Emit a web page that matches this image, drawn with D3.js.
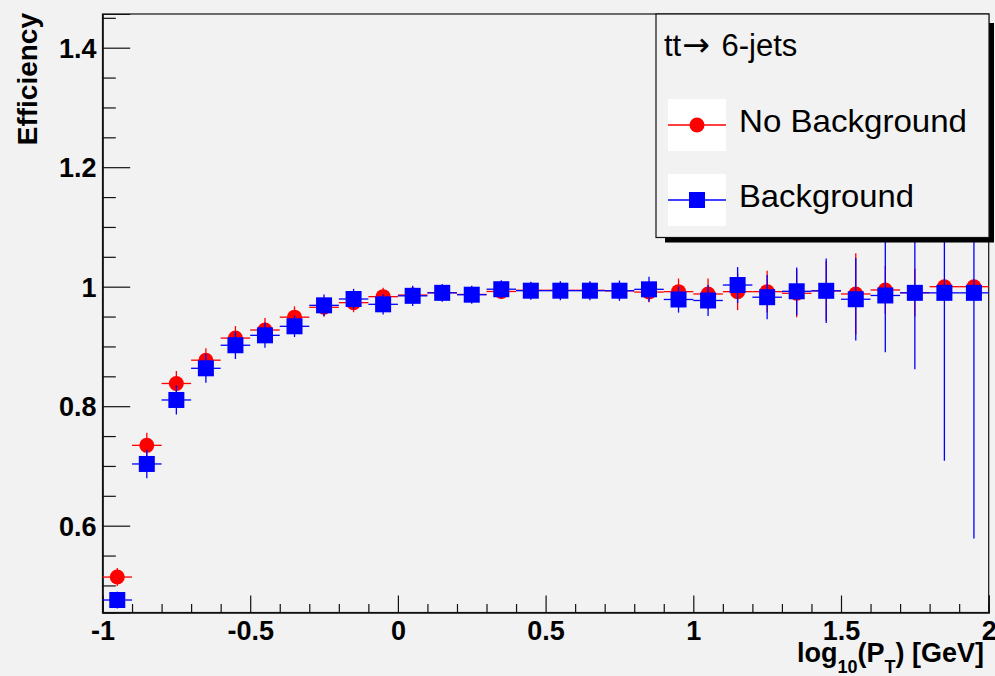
<!DOCTYPE html>
<html>
<head>
<meta charset="utf-8">
<script src="https://cdn.jsdelivr.net/npm/d3@7/dist/d3.min.js"></script>
<style>
  html, body { margin: 0; padding: 0; background: #f2f2f2; }
  svg { display: block; }
  text { font-family: "Liberation Sans", Arial, Helvetica, sans-serif; }
</style>
</head>
<body>
<svg id="chart" width="995" height="676"></svg>
<script>
// Bin centres of log10(pT) (bins of width 0.1 from -1 to 2)
const binCenters = [-0.95, -0.85, -0.75, -0.65, -0.55, -0.45, -0.35, -0.25, -0.15, -0.05,
                     0.05,  0.15,  0.25,  0.35,  0.45,  0.55,  0.65,  0.75,  0.85,  0.95,
                     1.05,  1.15,  1.25,  1.35,  1.45,  1.55,  1.65,  1.75,  1.85,  1.95];
const binHalfWidth = 0.05;

// Efficiency without background
const effNoBkg = [0.514, 0.7345, 0.838, 0.877, 0.914, 0.9275, 0.949, 0.9655, 0.9733, 0.9833,
                  0.986, 0.990, 0.987, 0.992, 0.994, 0.994, 0.994, 0.993, 0.991, 0.9917,
                  0.9878, 0.9917, 0.9917, 0.989, 0.993, 0.9878, 0.9945, 0.990, 1.0, 1.0];
const errNoBkg = [0.015, 0.021, 0.021, 0.020, 0.020, 0.020, 0.018, 0.016, 0.016, 0.015,
                  0.014, 0.012, 0.012, 0.012, 0.012, 0.012, 0.013, 0.014, 0.017, 0.022,
                  0.026, 0.031, 0.035, 0.040, 0.050, 0.068, 0.040, 0.040, 0.0, 0.0];

// Efficiency with background
const effBkg = [0.4756, 0.7033, 0.8104, 0.8634, 0.902, 0.9186, 0.9337, 0.9688, 0.9794, 0.9705,
                0.9847, 0.9897, 0.9866, 0.9958, 0.9933, 0.9933, 0.9933, 0.9933, 0.9956, 0.9786,
                0.9769, 1.0028, 0.9824, 0.9923, 0.9931, 0.979, 0.9853, 0.9897, 0.9897, 0.9897];
const errBkg = [0.014, 0.024, 0.0245, 0.024, 0.023, 0.021, 0.018, 0.018, 0.017, 0.017,
                0.017, 0.015, 0.015, 0.015, 0.015, 0.016, 0.016, 0.017, 0.021, 0.022,
                0.026, 0.030, 0.037, 0.040, 0.054, 0.069, 0.095, 0.128, 0.281, 0.411];

// Axis ticks
const xMajorTicks = [-1, -0.5, 0, 0.5, 1, 1.5, 2];
const xTickLabels = ["-1", "-0.5", "0", "0.5", "1", "1.5", "2"];
const xMinorTicks = [-0.9, -0.8, -0.7, -0.6, -0.4, -0.3, -0.2, -0.1, 0.1, 0.2, 0.3, 0.4,
                     0.6, 0.7, 0.8, 0.9, 1.1, 1.2, 1.3, 1.4, 1.6, 1.7, 1.8, 1.9];
const yMajorTicks = [0.6, 0.8, 1.0, 1.2, 1.4];
const yTickLabels = ["0.6", "0.8", "1", "1.2", "1.4"];
const yMinorTicks = [0.5, 0.55, 0.65, 0.7, 0.75, 0.85, 0.9, 0.95, 1.05, 1.1, 1.15, 1.25, 1.3, 1.35, 1.45];

const seriesNames = ["No Background", "Background"];
const seriesColors = ["#ff0000", "#0000ff"];

const svg = d3.select("#chart");
svg.append("rect").attr("width", 995).attr("height", 676).attr("fill", "#f2f2f2");

const frame = { left: 102.5, right: 988.7, top: 14, bottom: 612.5 };
const x = d3.scaleLinear().domain([-1, 2]).range([frame.left, frame.right]);
const y = d3.scaleLinear().domain([0.4547, 1.4564]).range([frame.bottom, frame.top]);

// Frame
svg.append("rect")
  .attr("x", frame.left).attr("y", frame.top)
  .attr("width", frame.right - frame.left).attr("height", frame.bottom - frame.top)
  .attr("fill", "none").attr("stroke", "#111").attr("stroke-width", 1.2);

const tickFont = { size: 27, weight: "bold" };

// X axis: major ticks with labels, minor ticks
const xAxisG = svg.append("g").attr("transform", `translate(0,${frame.bottom})`);
xAxisG.call(d3.axisBottom(x).tickValues(xMajorTicks).tickSize(-17)
  .tickFormat((d, i) => xTickLabels[i]).tickPadding(0));
xAxisG.append("g").call(d3.axisBottom(x).tickValues(xMinorTicks).tickSize(-8.5).tickFormat(""));
xAxisG.selectAll(".domain").attr("stroke", "#111").attr("stroke-width", 1.2);
xAxisG.selectAll(".tick line").attr("stroke", "#111").attr("stroke-width", 1.2);
xAxisG.selectAll(".tick text")
  .attr("y", 27.5).attr("dy", null)
  .attr("fill", "#000")
  .style("font-family", '"Liberation Sans", Arial, sans-serif')
  .style("font-size", tickFont.size + "px").style("font-weight", tickFont.weight);

// Y axis
const yAxisG = svg.append("g").attr("transform", `translate(${frame.left},0)`);
yAxisG.call(d3.axisLeft(y).tickValues(yMajorTicks).tickSize(-27.7)
  .tickFormat((d, i) => yTickLabels[i]).tickPadding(6));
yAxisG.append("g").call(d3.axisLeft(y).tickValues(yMinorTicks).tickSize(-13.3).tickFormat(""));
yAxisG.selectAll(".domain").attr("stroke", "#111").attr("stroke-width", 1.2);
yAxisG.selectAll(".tick line").attr("stroke", "#111").attr("stroke-width", 1.2);
yAxisG.selectAll(".tick text")
  .attr("dy", "0.36em")
  .attr("fill", "#000")
  .style("font-family", '"Liberation Sans", Arial, sans-serif')
  .style("font-size", tickFont.size + "px").style("font-weight", tickFont.weight);

// Axis titles
const xTitle = svg.append("text")
  .attr("x", 984).attr("y", 662)
  .attr("text-anchor", "end")
  .style("font-size", "27px").style("font-weight", "bold");
xTitle.append("tspan").text("log");
xTitle.append("tspan").attr("dy", 11).style("font-size", "18px").text("10");
xTitle.append("tspan").attr("dy", -11).text("(P");
xTitle.append("tspan").attr("dy", 11).style("font-size", "18px").text("T");
xTitle.append("tspan").attr("dy", -11).text(") [GeV]");

svg.append("text")
  .attr("transform", "translate(37,13) rotate(-90)")
  .attr("text-anchor", "end")
  .style("font-size", "28px").style("font-weight", "bold")
  .text("Efficiency");

// Data series
const series = [
  { values: effNoBkg, errors: errNoBkg, color: seriesColors[0], marker: "circle" },
  { values: effBkg, errors: errBkg, color: seriesColors[1], marker: "square" }
];

const plot = svg.append("g");
series.forEach(s => {
  const pts = binCenters.map((c, i) => ({ c, v: s.values[i], e: s.errors[i] }));
  const g = plot.append("g");
  // horizontal bars (bin width)
  g.selectAll("line.xerr").data(pts).join("line")
    .attr("class", "xerr")
    .attr("x1", d => x(d.c - binHalfWidth)).attr("x2", d => x(d.c + binHalfWidth))
    .attr("y1", d => y(d.v)).attr("y2", d => y(d.v))
    .attr("stroke", s.color).attr("stroke-width", 1.3);
  // vertical error bars
  g.selectAll("line.yerr").data(pts.filter(d => d.e > 0)).join("line")
    .attr("class", "yerr")
    .attr("x1", d => x(d.c)).attr("x2", d => x(d.c))
    .attr("y1", d => y(d.v - d.e)).attr("y2", d => y(d.v + d.e))
    .attr("stroke", s.color).attr("stroke-width", 1.3);
  if (s.marker === "circle") {
    g.selectAll("circle").data(pts).join("circle")
      .attr("cx", d => x(d.c)).attr("cy", d => y(d.v)).attr("r", 7.5)
      .attr("fill", s.color);
  } else {
    g.selectAll("rect").data(pts).join("rect")
      .attr("x", d => x(d.c) - 8).attr("y", d => y(d.v) - 8)
      .attr("width", 16).attr("height", 16)
      .attr("fill", s.color);
  }
});

// Legend box with drop shadow
const lg = { x: 656, y: 14, w: 333, h: 223.5 };
const legend = svg.append("g");
legend.append("rect")
  .attr("x", lg.x + 9).attr("y", lg.y + 9)
  .attr("width", lg.w - 4).attr("height", lg.h - 4).attr("fill", "#000");
legend.append("rect")
  .attr("x", lg.x).attr("y", lg.y).attr("width", lg.w).attr("height", lg.h)
  .attr("fill", "#f2f2f2").attr("stroke", "#111").attr("stroke-width", 1.2);

const header = legend.append("text")
  .attr("x", 664).attr("y", 56)
  .style("font-size", "31px");
header.append("tspan").text("tt");
header.append("tspan").attr("dx", 1).style("font-family", '"DejaVu Sans", sans-serif').style("font-size", "33px").text("\u2192");
header.append("tspan").attr("dx", 3).text(" 6-jets");

const entryY = [125, 200];
const entryWidths = [228, 175];
seriesNames.forEach((name, i) => {
  const cy = entryY[i];
  legend.append("rect").attr("x", 668).attr("y", cy - 26).attr("width", 58).attr("height", 52)
    .attr("fill", "#ffffff");
  legend.append("line").attr("x1", 668).attr("x2", 726).attr("y1", cy).attr("y2", cy)
    .attr("stroke", seriesColors[i]).attr("stroke-width", 1.3);
  if (series[i].marker === "circle") {
    legend.append("circle").attr("cx", 697).attr("cy", cy).attr("r", 7.5).attr("fill", seriesColors[i]);
  } else {
    legend.append("rect").attr("x", 689).attr("y", cy - 8).attr("width", 16).attr("height", 16)
      .attr("fill", seriesColors[i]);
  }
  legend.append("text")
    .attr("x", 739).attr("y", cy + 7)
    .attr("textLength", entryWidths[i]).attr("lengthAdjust", "spacingAndGlyphs")
    .style("font-size", "31.5px")
    .text(name);
});
</script>
</body>
</html>
